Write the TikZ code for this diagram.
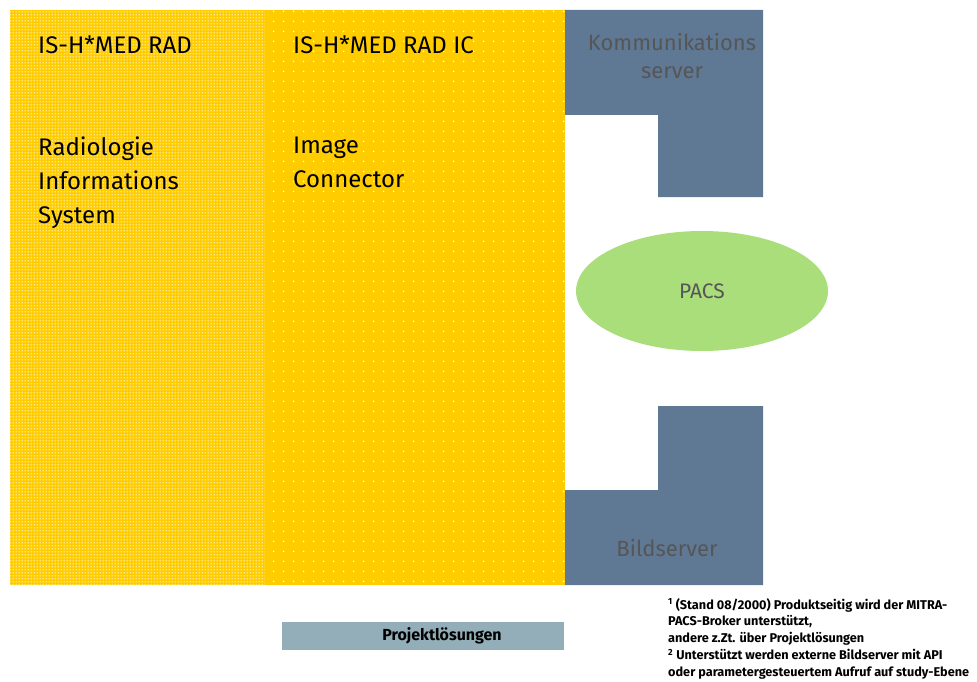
\documentclass[tikz,border=0pt]{standalone}
\usepackage{fontspec}
\setmainfont{Fira Sans}
\usetikzlibrary{patterns,patterns.meta,shapes.geometric}

\definecolor{radyellow}{HTML}{FFCC00}
\definecolor{srvblue}{HTML}{5F7894}
\definecolor{srvtext}{HTML}{565656}
\definecolor{pacsgreen}{HTML}{A9DE7B}
\definecolor{projbar}{HTML}{93AEB8}

\tikzdeclarepattern{
  name=finedots, type=uncolored,
  bounding box={(0,0) and (3pt,3pt)},
  tile size={(3pt,3pt)},
  code={\fill (1.5pt,1.5pt) circle (0.85pt);}
}
\tikzdeclarepattern{
  name=sparsedots, type=uncolored,
  bounding box={(0,0) and (9.6pt,9.6pt)},
  tile size={(9.6pt,9.6pt)},
  code={\fill (4.8pt,4.8pt) circle (0.8pt);}
}

\tikzset{
  label/.style={font=\fontsize{24}{34}\selectfont, align=left, anchor=north west, inner sep=0pt},
  srvlabel/.style={font=\fontsize{22}{28}\selectfont, text=srvtext, align=center, inner sep=0pt},
  footnote/.style={font=\fontsize{12.7}{16.8}\selectfont\bfseries, align=left, anchor=north west, inner sep=0pt}
}

\begin{document}
\begin{tikzpicture}[x=1pt,y=-1pt]
\useasboundingbox (0,0) rectangle (977,682);

% RIS column
\fill[radyellow] (10,10) rectangle (265,585);
\fill[pattern={finedots}, pattern color=white] (10,10) rectangle (265,585);
% Image connector column
\fill[radyellow] (265,10) rectangle (565,585);
\fill[pattern={sparsedots}, pattern color=white] (265,10) rectangle (565,585);

% server blocks
\fill[srvblue] (565,10) -- (763,10) -- (763,197) -- (658,197) -- (658,115) -- (565,115) -- cycle;
\fill[srvblue] (658,406) -- (763,406) -- (763,585) -- (565,585) -- (565,490) -- (658,490) -- cycle;

\node[label] (ris) at (38,36) {IS-H*MED RAD};
\node[label] (risdesc) at (38,137) {Radiologie\\Informations\\System};
\node[label] (ic) at (293,36) {IS-H*MED RAD IC};
\node[label] (icdesc) at (293,137) {Image\\Connector};

\node[srvlabel] (komm) at (672,56) {Kommunikations\\server};
\node[srvlabel] (bild) at (667,548) {Bildserver};

\node[ellipse, fill=pacsgreen, minimum width=252, minimum height=120, inner sep=0pt,
      font=\fontsize{21}{24}\selectfont, text=srvtext] (pacs) at (702,291) {PACS};

% project solutions bar with its caption
\node[fill=projbar, minimum width=282, minimum height=28, inner sep=0pt] (proj) at (423,636) {};
\node[font=\fontsize{16}{18}\selectfont\bfseries, inner sep=0pt] (projtext) at ([xshift=19]proj.center) {Projektlösungen};

\node[footnote] (notes) at (668,598) {\textsuperscript{1} (Stand 08/2000) Produktseitig wird der MITRA-\\PACS-Broker unterstützt,\\andere z.Zt. über Projektlösungen\\\textsuperscript{2} Unterstützt werden externe Bildserver mit API\\oder parametergesteuertem Aufruf auf study-Ebene};
\end{tikzpicture}
\end{document}
